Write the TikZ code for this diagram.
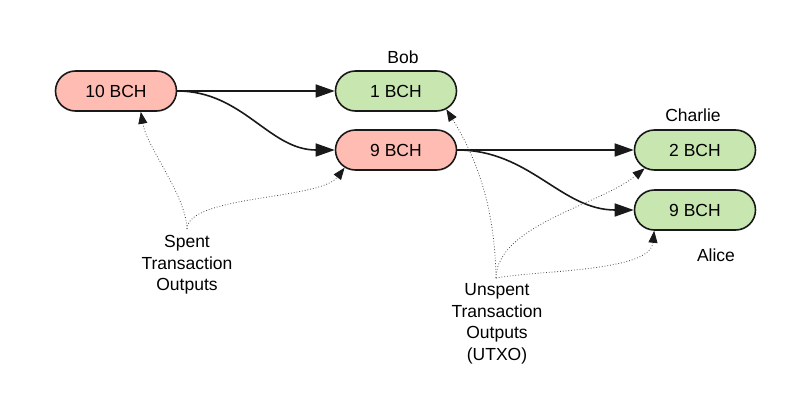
\documentclass[tikz,border=0pt]{standalone}
\usepackage{fontspec}
\setmainfont{Liberation Sans}
\usepackage{tikz}
\usetikzlibrary{arrows.meta,shapes.misc}
\definecolor{spentfill}{RGB}{255,188,179}
\definecolor{unspentfill}{RGB}{199,230,176}
\definecolor{edgeline}{RGB}{25,25,25}

\begin{document}
\begin{tikzpicture}[
  x=1pt, y=-1pt,
  output/.style={rounded rectangle, draw=edgeline, line width=1.6pt,
    minimum width=121pt, minimum height=40pt, inner sep=0pt,
    font=\fontsize{17.5}{21}\selectfont},
  spent/.style={output, fill=spentfill},
  unspent/.style={output, fill=unspentfill},
  owner/.style={font=\fontsize{17.5}{21}\selectfont},
  caption/.style={align=center, font=\fontsize{17.5}{21.5}\selectfont},
  flow/.style={-{Triangle[length=19pt,width=13pt]}, line width=1.6pt, edgeline},
  hint/.style={-{Triangle[length=12pt,width=9pt,color=edgeline]}, dotted,
    line width=0.8pt, black!70}
]
  \useasboundingbox (0,0) rectangle (802,415);

  % Outputs
  \node[spent] (in10) at (116,91) {10 BCH};
  \node[unspent] (bob1) at (396,91) {1 BCH};
  \node[spent] (change9) at (396,150) {9 BCH};
  \node[unspent] (charlie2) at (695,150) {2 BCH};
  \node[unspent] (alice9) at (695,210) {9 BCH};

  % Owners
  \node[owner] (bob) at (403,57) {Bob};
  \node[owner] (charlie) at (693,115) {Charlie};
  \node[owner] (alice) at (716,255) {Alice};

  % Transactions
  \draw[flow] (in10.east) -- (bob1.west);
  \draw[flow] (in10.east) to[out=0, in=180] (change9.west);
  \draw[flow] (change9.east) -- (charlie2.west);
  \draw[flow] (change9.east) to[out=0, in=180] (alice9.west);

  % Captions
  \node[caption] (spenttxt) at (187,265) {Spent\\Transaction\\Outputs};
  \node[caption] (utxotxt) at (497,324) {Unspent\\Transaction\\Outputs\\(UTXO)};
  \coordinate (spentfork) at (187,229);
  \coordinate (utxofork) at (496,278);

  \draw[hint] (spentfork) .. controls (186,195) and (147,148) .. (in10.-40);
  \draw[hint] (spentfork) .. controls (188,195) and (320,200) .. (change9.-161);
  \draw[hint] (utxofork) .. controls (495,210) and (478,160) .. (bob1.-20);
  \draw[hint] (utxofork) .. controls (497,225) and (600,205) .. (charlie2.-160);
  \draw[hint] (utxofork) .. controls (540,270) and (650,272) .. (alice9.-153);
\end{tikzpicture}
\end{document}
